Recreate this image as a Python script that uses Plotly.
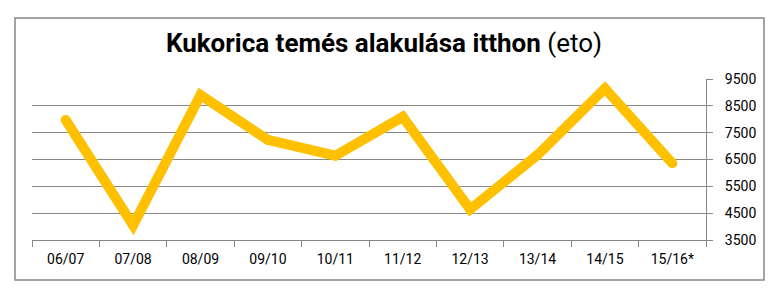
import plotly.graph_objects as go

seasons = ["06/07", "07/08", "08/09", "09/10", "10/11", "11/12", "12/13", "13/14", "14/15", "15/16*"]
harvest = [7970, 4050, 8900, 7230, 6640, 8090, 4640, 6670, 9150, 6360]
y_ticks = [3500, 4500, 5500, 6500, 7500, 8500, 9500]

GOLD = "#FFC000"
GRAY = "#878787"
FONT = "Roboto"

fig = go.Figure()
fig.add_trace(go.Scatter(
    x=seasons, y=harvest, mode="lines+markers",
    line=dict(color=GOLD, width=10),
    marker=dict(color=GOLD, size=10, line=dict(width=0)),
    hoverinfo="skip", showlegend=False,
))

fig.update_layout(
    width=777, height=289,
    margin=dict(l=32, r=71, t=79, b=49),
    paper_bgcolor="white", plot_bgcolor="white",
    title=dict(
        text="<b>Kukorica temés alakulása itthon</b> (eto)",
        x=384 / 777, xanchor="center", xref="container",
        y=1 - 43 / 289, yanchor="middle", yref="container",
        font=dict(family=FONT, size=26, color="black"),
    ),
    xaxis=dict(
        type="category", range=[-0.5, 9.5],
        showgrid=False, showline=True, linecolor=GRAY, linewidth=1,
        ticks="outside", tickson="boundaries", ticklen=6, tickcolor=GRAY,
        ticklabelstandoff=6,
        tickfont=dict(family=FONT, size=14, color="black"),
    ),
    yaxis=dict(
        range=[3500, 9500], side="right", tickvals=y_ticks,
        showgrid=True, gridcolor=GRAY, gridwidth=1,
        showline=True, linecolor=GRAY, linewidth=1,
        ticks="outside", ticklen=6, tickcolor=GRAY,
        ticklabelposition="outside",
        ticklabelstandoff=9,
        tickfont=dict(family=FONT, size=14, color="black"),
        zeroline=False,
    ),
    shapes=[dict(
        type="rect", xref="paper", yref="paper",
        x0=(15 - 32) / 674, x1=(764 - 32) / 674,
        y0=(240 - 280) / 161, y1=(240 - 18) / 161,
        line=dict(color=GRAY, width=1.5), fillcolor="rgba(0,0,0,0)", layer="below",
    )],
)

fig.write_html("out.html")
